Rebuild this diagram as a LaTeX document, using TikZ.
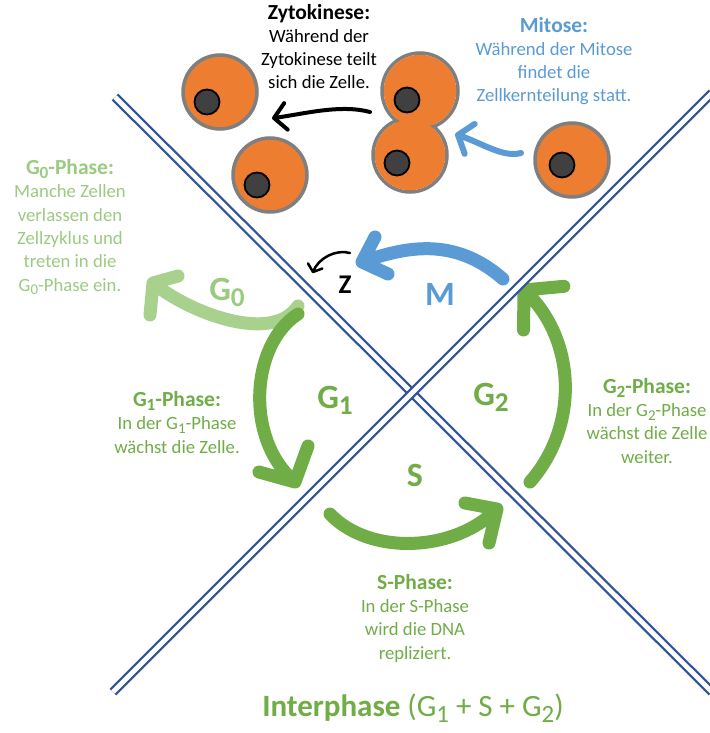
\documentclass[tikz,border=0pt]{standalone}
\usepackage{fontspec}
\usepackage{graphicx}
\setmainfont{Carlito}
\usetikzlibrary{calc}

\definecolor{cellorange}{HTML}{ED7D31}
\definecolor{cellrim}{HTML}{7F7F7F}
\definecolor{nucleus}{HTML}{404040}
\definecolor{mitblue}{HTML}{5B9BD5}
\definecolor{phasegreen}{HTML}{70AD47}
\definecolor{restgreen}{HTML}{A9D18E}
\definecolor{resttext}{HTML}{9BCB80}
\definecolor{axisblue}{HTML}{34549A}

% lowered index digit (G0, G1, G2)
\newcommand\idx[1]{\raisebox{-0.2em}{\scalebox{0.8}{#1}}}
\newcommand\ttlfont{\fontsize{21.5}{23.3}\selectfont\bfseries}

\tikzset{
  % multi-line blocks: the base anchor sits on the last line
  info/.style={align=center, inner sep=0pt, anchor=base,
    font=\fontsize{18.7}{23.3}\selectfont},
  phaselabel/.style={inner sep=0pt, anchor=base,
    font=\fontsize{34}{34}\selectfont\bfseries},
  axisline/.style={draw=axisblue, line width=2.3pt, double=white,
    double distance=4.7pt},
  cyclearrow/.style={line width=13pt, line cap=round, line join=round},
  thinarrow/.style={line cap=round, line join=round},
  rim/.style={draw=cellrim, line width=3.5pt},
  kern/.style={fill=nucleus, draw=black, line width=1.8pt},
}

\begin{document}
\begin{tikzpicture}[x=1pt, y=-1pt]
\fill[white] (0,0) rectangle (709,733);
\useasboundingbox (0,0) rectangle (709,733);

% ---------- cells ----------
\coordinate (cellR) at (572,160);
\coordinate (nucR) at (562,165);
\coordinate (divA) at (420,91);
\coordinate (divB) at (410,155);
\coordinate (nucA) at (407,100);
\coordinate (nucB) at (397,163);
\coordinate (cellL) at (220,92);
\coordinate (nucL) at (207,102);
\coordinate (cellD) at (270,175);
\coordinate (nucD) at (257,185);

\filldraw[fill=cellorange, rim] (cellR) circle[radius=37pt];
\filldraw[kern] (nucR) circle[radius=12.5pt];

% dividing cell: two merged circles
\draw[rim] (divA) circle[radius=38pt] (divB) circle[radius=37pt];
\fill[cellorange] (divA) circle[radius=36.25pt] (divB) circle[radius=35.25pt];
\filldraw[kern] (nucA) circle[radius=12.5pt];
\filldraw[kern] (nucB) circle[radius=12.5pt];

\filldraw[fill=cellorange, rim] (cellL) circle[radius=37pt];
\filldraw[kern] (nucL) circle[radius=12.5pt];
\filldraw[fill=cellorange, rim] (cellD) circle[radius=37pt];
\filldraw[kern] (nucD) circle[radius=12.5pt];

% ---------- small arrows between the cells ----------
\coordinate (zyS) at (370,112);
\coordinate (zyA) at (340,104);
\coordinate (zyB) at (304,114);
\coordinate (zyT) at (274,118);
\draw[thinarrow, black, line width=4pt]
  (zyS) .. controls (zyA) and (zyB) .. (zyT)
  ($(zyT)!18pt!48:(zyB)$) -- (zyT) -- ($(zyT)!18pt!-48:(zyB)$);

\coordinate (miS) at (521,153);
\coordinate (miA) at (503,158);
\coordinate (miB) at (482,143);
\coordinate (miT) at (458,135);
\draw[thinarrow, mitblue, line width=6pt]
  (miS) .. controls (miA) and (miB) .. (miT)
  ($(miT)!20pt!52:(miB)$) -- (miT) -- ($(miT)!20pt!-52:(miB)$);

% ---------- cycle arrows ----------
% G0: leaving the cycle
\coordinate (g0S) at (298,306);
\coordinate (g0A) at (272,345);
\coordinate (g0B) at (188,312);
\coordinate (g0T) at (153,283);
\coordinate (g0L) at (178,276);
\coordinate (g0R) at (150,315);
\draw[cyclearrow, restgreen]
  (g0S) .. controls (g0A) and (g0B) .. (g0T)
  (g0L) -- (g0T) -- (g0R);

% G1
\coordinate (g1S) at (298,314);
\coordinate (g1A) at (250,345);
\coordinate (g1B) at (245,440);
\coordinate (g1T) at (295,482);
\coordinate (g1L) at (259,472);
\coordinate (g1R) at (308,446);
\draw[cyclearrow, phasegreen]
  (g1S) .. controls (g1A) and (g1B) .. (g1T)
  (g1L) -- (g1T) -- (g1R);

% S
\coordinate (sS) at (330,514);
\coordinate (sA) at (370,556);
\coordinate (sB) at (455,552);
\coordinate (sT) at (497,509);
\coordinate (sL) at (465,503);
\coordinate (sR) at (489,543);
\draw[cyclearrow, phasegreen]
  (sS) .. controls (sA) and (sB) .. (sT)
  (sL) -- (sT) -- (sR);

% G2
\coordinate (g2S) at (530,482);
\coordinate (g2A) at (580,425);
\coordinate (g2B) at (576,338);
\coordinate (g2T) at (524,290);
\draw[cyclearrow, phasegreen]
  (g2S) .. controls (g2A) and (g2B) .. (g2T)
  ($(g2T)!40pt!48:(g2B)$) -- (g2T) -- ($(g2T)!40pt!-48:(g2B)$);

% M
\coordinate (mS) at (503,279);
\coordinate (mA) at (454,236);
\coordinate (mB) at (405,247);
\coordinate (mT) at (362,262);
\coordinate (mL) at (375,237);
\coordinate (mR) at (388,274);
\draw[cyclearrow, mitblue]
  (mS) .. controls (mA) and (mB) .. (mT)
  (mL) -- (mT) -- (mR);

% Z
\coordinate (zS) at (350,253);
\coordinate (zA) at (336,249);
\coordinate (zB) at (318,258);
\coordinate (zT) at (313,272);
\draw[thinarrow, black, line width=2.5pt]
  (zS) .. controls (zA) and (zB) .. (zT)
  ($(zT)!10pt!50:(zB)$) -- (zT) -- ($(zT)!10pt!-50:(zB)$);

% ---------- crossing axes ----------
\coordinate (axA1) at (115,97);
\coordinate (axA2) at (712,692);
\coordinate (axB1) at (113,692);
\coordinate (axB2) at (712,93);
\draw[axisline] (axA1) -- (axA2);
\draw[axisline] (axB1) -- (axB2);

% ---------- phase labels ----------
\node[phaselabel, resttext] (lblG0) at (227,300) {G\idx{0}};
\node[phaselabel, phasegreen] (lblG1) at (335,408) {G\idx{1}};
\node[phaselabel, phasegreen] (lblG2) at (491,405) {G\idx{2}};
\node[phaselabel, phasegreen] (lblS) at (415,486) {S};
\node[phaselabel, mitblue] (lblM) at (440,305) {M};
\node[phaselabel, black, font=\fontsize{27}{27}\selectfont\bfseries] (lblZ) at (345,293) {Z};

% ---------- descriptions (placed by the baseline of their last line) ----------
\node[info, black] (txtZyto) at (319,89)
  {{\ttlfont Zytokinese:}\\Während der\\Zytokinese teilt\\sich die Zelle.};
\node[info, mitblue] (txtMit) at (554,102)
  {{\ttlfont Mitose:}\\Während der Mitose\\findet die\\Zellkernteilung statt.};
\node[info, resttext] (txtG0) at (70,291)
  {{\ttlfont G\idx{0}-Phase:}\\Manche Zellen\\verlassen den\\Zellzyklus und\\treten in die\\G\idx{0}-Phase ein.};
\node[info, phasegreen] (txtG1) at (177,453)
  {{\ttlfont G\idx{1}-Phase:}\\In der G\idx{1}-Phase\\wächst die Zelle.};
\node[info, phasegreen] (txtG2) at (647,463)
  {{\ttlfont G\idx{2}-Phase:}\\In der G\idx{2}-Phase\\wächst die Zelle\\weiter.};
\node[info, phasegreen] (txtS) at (415,659)
  {{\ttlfont S-Phase:}\\In der S-Phase\\wird die DNA\\repliziert.};

\node[inner sep=0pt, anchor=base, phasegreen, font=\fontsize{31}{31}\selectfont] (txtInter) at (413,716)
  {\textbf{Interphase} (G\idx{1} + S + G\idx{2})};
\end{tikzpicture}
\end{document}
